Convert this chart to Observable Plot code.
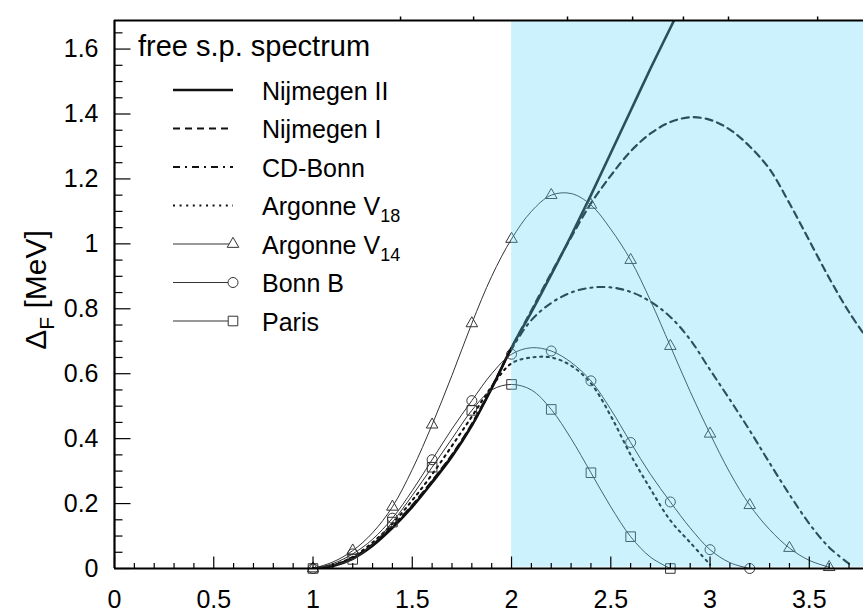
<!DOCTYPE html>
<html><head><meta charset="utf-8">
<script src="https://cdn.jsdelivr.net/npm/d3@7"></script>
<script src="https://cdn.jsdelivr.net/npm/@observablehq/plot@0.6"></script>
<style>
body{margin:0;background:#fff;}
#chart svg{display:block;overflow:visible;}
</style></head><body><div id="chart"></div>
<script>
// ---- data ----
const kF = [1.0,1.1,1.2,1.3,1.4,1.5,1.6,1.7,1.8,1.9,2.0,2.1,2.2,2.3,2.4,2.5,2.6,2.7,2.8,2.9,3.0,3.1,3.2,3.3,3.4,3.5,3.6,3.7,3.8];
const nijmegenII = [0,0.008,0.03,0.07,0.125,0.19,0.265,0.345,0.44,0.555,0.68,0.79,0.905,1.025,1.15,1.28,1.41,1.54,1.665,1.79,null,null,null,null,null,null,null,null,null];
const nijmegenI  = [0,0.01,0.033,0.074,0.13,0.195,0.27,0.35,0.445,0.558,0.68,0.795,0.91,1.02,1.125,1.21,1.285,1.34,1.375,1.39,1.382,1.352,1.30,1.23,1.125,1.01,0.895,0.79,0.70];
const cdBonn     = [0,0.009,0.032,0.073,0.128,0.193,0.268,0.348,0.442,0.556,0.675,0.765,0.818,0.85,0.865,0.866,0.852,0.822,0.775,0.705,0.612,0.52,0.425,0.325,0.228,0.138,0.065,0.015,null];
const argonneV18 = [0,0.01,0.036,0.08,0.138,0.21,0.29,0.378,0.468,0.56,0.632,0.65,0.65,0.625,0.57,0.47,0.35,0.245,0.148,0.08,0.012,null,null,null,null,null,null,null,null];
const argonneV14 = [0,0.02,0.055,0.11,0.19,0.305,0.443,0.595,0.755,0.9,1.015,1.1,1.15,1.155,1.12,1.045,0.95,0.825,0.685,0.545,0.415,0.295,0.195,0.12,0.063,0.025,0.004,null,null];
const bonnB      = [0,0.015,0.045,0.09,0.155,0.24,0.335,0.43,0.517,0.6,0.66,0.68,0.67,0.635,0.578,0.49,0.388,0.29,0.205,0.125,0.058,0.018,0,null,null,null,null,null,null];
const paris      = [0,0.01,0.028,0.075,0.143,0.225,0.312,0.4,0.487,0.55,0.567,0.55,0.49,0.4,0.295,0.19,0.098,0.035,0,null,null,null,null,null,null,null,null,null,null];
const seriesNames = ["Nijmegen II","Nijmegen I","CD-Bonn","Argonne V18","Argonne V14","Bonn B","Paris"];
const xTickLabels = [0,0.5,1,1.5,2,2.5,3,3.5];
const yTickLabels = [0,0.2,0.4,0.6,0.8,1,1.2,1.4,1.6];
const topTicks = [1.441,1.809,2.282,2.610,2.866,3.093,3.542];
const shadeFrom = 2.0;
const xMax = 3.773, yMax = 1.688;

// ---- styles ----
const styles = {
  "Nijmegen II": {stroke:"#111", strokeWidth:2.6},
  "Nijmegen I":  {stroke:"#111", strokeWidth:2.2, strokeDasharray:"7,5"},
  "CD-Bonn":     {stroke:"#111", strokeWidth:2.1, strokeDasharray:"7,5,2,5"},
  "Argonne V18": {stroke:"#111", strokeWidth:2.1, strokeDasharray:"2,4.6"},
  "Argonne V14": {stroke:"#333", strokeWidth:1, symbol:"triangle", r:4.3},
  "Bonn B":      {stroke:"#333", strokeWidth:1, symbol:"circle", r:5},
  "Paris":       {stroke:"#333", strokeWidth:1, symbol:"square", r:5.4}
};
const values = [nijmegenII, nijmegenI, cdBonn, argonneV18, argonneV14, bonnB, paris];
const rows = seriesNames.map((name,s) =>
  kF.map((k,i)=>({name, k, v: values[s][i], i})).filter(d=>d.v!=null));

const tickSym = (dx,dy) => ({draw(ctx){ctx.moveTo(0,0);ctx.lineTo(dx,dy);}});
const xMinor = d3.range(0, 38).map(i=>i/10).filter(v=>Math.abs(v*2-Math.round(v*2))>1e-6);
const yMinor = d3.range(0, 34).map(i=>i*0.05).filter(v=>Math.abs(v*5-Math.round(v*5))>1e-6);

const marks = [];
rows.forEach((data,s)=>{
  const st = styles[seriesNames[s]];
  marks.push(Plot.line(data, {x:"k", y:"v", curve:"catmull-rom", clip:true,
    stroke:st.stroke, strokeWidth:st.strokeWidth, strokeDasharray:st.strokeDasharray}));
  if (st.symbol) {
    marks.push(Plot.dot(data.filter(d=>d.i%2===0), {x:"k", y:"v", symbol:st.symbol, r:st.r,
      stroke:"#333", strokeWidth:1, fill:"none"}));
  }
});
// shaded region (semi-transparent overlay)
marks.push(Plot.rect([shadeFrom], {x1:d=>d, x2:()=>xMax, y1:()=>0.004, y2:()=>yMax, fill:"#60dafa", fillOpacity:0.32}));
// frame
marks.push(Plot.ruleY([0], {stroke:"black", strokeWidth:2.2}));
marks.push(Plot.ruleY([yMax], {stroke:"black", strokeWidth:2}));
marks.push(Plot.ruleX([0], {stroke:"black", strokeWidth:2.2}));
// ticks
marks.push(Plot.dot(xTickLabels, {x:d=>d, y:()=>0, r:1, symbol:tickSym(0,-12), stroke:"black", strokeWidth:1.2, fill:"none"}));
marks.push(Plot.dot(xMinor, {x:d=>d, y:()=>0, r:1, symbol:tickSym(0,-5.5), stroke:"black", strokeWidth:1.2, fill:"none"}));
marks.push(Plot.dot(yTickLabels, {x:()=>0, y:d=>d, r:1, symbol:tickSym(16,0), stroke:"black", strokeWidth:1.2, fill:"none"}));
marks.push(Plot.dot(yMinor, {x:()=>0, y:d=>d, r:1, symbol:tickSym(8,0), stroke:"black", strokeWidth:1.2, fill:"none"}));
marks.push(Plot.dot(topTicks, {x:d=>d, y:()=>yMax, r:1, symbol:tickSym(0,-4), stroke:"black", strokeWidth:1.5, fill:"none"}));
// tick labels
marks.push(Plot.text(xTickLabels, {x:d=>d, y:()=>0, text:d=>String(d), dy:31, fontSize:25, fill:"black"}));
marks.push(Plot.text(yTickLabels, {x:()=>0, y:d=>d, text:d=>String(d), dx:-16, textAnchor:"end", fontSize:25, fill:"black"}));

const chart = Plot.plot({
  width:863, height:611,
  marginLeft:114, marginRight:0, marginTop:20, marginBottom:43,
  x:{domain:[0,xMax], axis:null},
  y:{domain:[0,yMax], axis:null},
  style:{fontFamily:"'Liberation Sans', Arial, sans-serif", background:"white", overflow:"visible"},
  marks
});
document.getElementById("chart").appendChild(chart);

// ---- y title & legend (added to the SVG) ----
const svg = d3.select(chart);
const font = "'Liberation Sans', Arial, sans-serif";
const yt = svg.append("text").attr("transform","translate(46,290) rotate(-90)")
  .attr("text-anchor","middle").attr("font-family",font).attr("font-size",30).attr("fill","black");
yt.append("tspan").text("Δ");
yt.append("tspan").text("F").attr("font-size",21).attr("dy",8);
yt.append("tspan").text(" [MeV]").attr("dy",-8);

const lg = svg.append("g").attr("font-family",font).attr("fill","black").attr("text-anchor","start");
lg.append("text").attr("x",138).attr("y",56).attr("font-size",29).text("free s.p. spectrum");
seriesNames.forEach((name,i)=>{
  const st = styles[name];
  const y = 90 + i*38.5;
  lg.append("line").attr("x1",173).attr("x2",233).attr("y1",y).attr("y2",y)
    .attr("stroke", st.stroke).attr("stroke-width", st.strokeWidth)
    .attr("stroke-dasharray", st.strokeDasharray || null);
  if (st.symbol) {
    const sym = {triangle:d3.symbolTriangle, circle:d3.symbolCircle, square:d3.symbolSquare}[st.symbol];
    lg.append("path").attr("d", d3.symbol(sym, Math.PI*st.r*st.r)())
      .attr("transform",`translate(233,${y})`).attr("fill","white").attr("stroke","#333").attr("stroke-width",1);
  }
  const t = lg.append("text").attr("x",262).attr("y",y+9.5).attr("font-size",25);
  const m = name.match(/^(Argonne V)(\d+)$/);
  if (m) {
    t.append("tspan").text(m[1]);
    t.append("tspan").text(m[2]).attr("font-size",18).attr("dy",7);
  } else t.text(name);
});
</script>
</body></html>
